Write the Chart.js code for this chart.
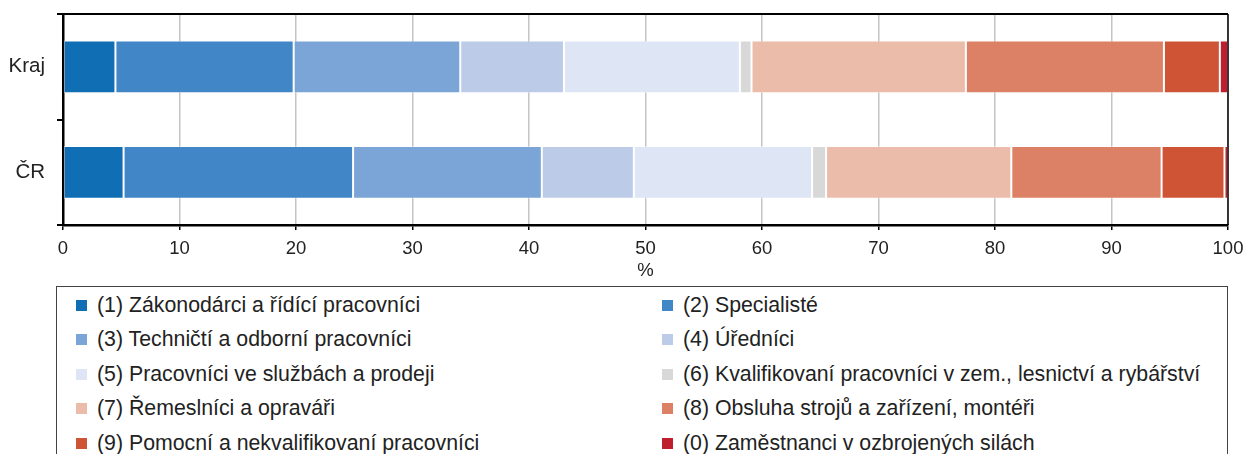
<!DOCTYPE html>
<html>
<head>
<meta charset="utf-8">
<script src="https://cdn.jsdelivr.net/npm/chart.js@4/dist/chart.umd.min.js"></script>
<style>
  body { margin: 0; background: #fff; font-family: "Liberation Sans", Arial, sans-serif; }
  #wrap { position: relative; width: 1248px; height: 454px; overflow: hidden; }
  #chartBox { position: absolute; left: 0; top: 0; width: 1248px; height: 285px; }
  #legend {
    position: absolute; left: 56px; top: 286px; width: 1172px; height: 200px;
    border: 1.5px solid #444; box-sizing: border-box;
    display: grid; grid-template-columns: 586px 580px; grid-auto-rows: 34.5px;
    padding-top: 1px; color: #222; font-size: 21.3px;
  }
  .item { display: flex; align-items: center; height: 34.5px; padding-left: 19px; white-space: nowrap; }
  .item span.box { display: inline-block; width: 11px; height: 11px; margin-right: 10px; flex: none; }
</style>
</head>
<body>
<div id="wrap">
  <div id="chartBox"><canvas id="myChart" width="1248" height="285"></canvas></div>
  <div id="legend"></div>
</div>
<script>
let categories = ["Kraj", "ČR"];
let groupLabels = [
  "(1) Zákonodárci a řídící pracovníci",
  "(2) Specialisté",
  "(3) Techničtí a odborní pracovníci",
  "(4) Úředníci",
  "(5) Pracovníci ve službách a prodeji",
  "(6) Kvalifikovaní pracovníci v zem., lesnictví a rybářství",
  "(7) Řemeslníci a opraváři",
  "(8) Obsluha strojů a zařízení, montéři",
  "(9) Pomocní a nekvalifikovaní pracovníci",
  "(0) Zaměstnanci v ozbrojených silách"
];
let krajValues = [4.5, 15.3, 14.3, 8.9, 15.1, 1.0, 18.4, 17.0, 4.8, 0.7];
let crValues = [5.2, 19.7, 16.2, 7.9, 15.3, 1.2, 15.9, 12.9, 5.4, 0.3];
let groupColors = [
  "#106eb4", "#4186c6", "#7aa5d6", "#bccbe8", "#dee5f4",
  "#d8d8d8", "#ebbcaa", "#dc8166", "#cf5436", "#bf1e2e"
];
let xTicks = [0, 10, 20, 30, 40, 50, 60, 70, 80, 90, 100];

var ctx = document.getElementById("myChart");

let datasets = [];
for (i = 0; i < groupLabels.length; i++) {
  datasets.push({
    label: groupLabels[i],
    data: [krajValues[i], crValues[i]],
    backgroundColor: groupColors[i],
    borderColor: "rgba(255,255,255,0.45)",
    borderWidth: 1,
    borderSkipped: false,
    categoryPercentage: 0.5,
    barPercentage: 1.0,
  });
}

// frame round the plot area (top + right side)
const frame = {
  id: "frame",
  afterDraw(chart) {
    let a = chart.chartArea;
    let c = chart.ctx;
    c.save();
    c.strokeStyle = "#000";
    c.lineWidth = 2;
    c.beginPath();
    c.moveTo(a.left, a.top);
    c.lineTo(a.right, a.top);
    c.stroke();
    c.lineWidth = 1.5;
    c.beginPath();
    c.moveTo(a.right, a.top);
    c.lineTo(a.right, a.bottom);
    c.stroke();
    c.restore();
  },
};

var myChart = new Chart(ctx, {
  type: "bar",
  data: { labels: categories, datasets: datasets },
  plugins: [frame],
  options: {
    indexAxis: "y",
    responsive: false,
    animation: false,
    layout: { padding: { top: 14, right: 20, left: 0, bottom: 0 } },
    plugins: { legend: { display: false }, tooltip: { enabled: false } },
    scales: {
      x: {
        stacked: true,
        min: 0,
        max: 100,
        afterBuildTicks: (scale) => {
          scale.ticks = xTicks.map((v) => ({ value: v }));
        },
        afterFit: (scale) => {
          scale.height = 60;
          scale.paddingLeft = 0;
          scale.paddingRight = 0;
        },
        grid: { color: "#c4c4c4", lineWidth: 1.5, tickColor: "#000", tickLength: 5, drawTicks: true },
        border: { color: "#000", width: 2.5 },
        ticks: { color: "#222", font: { family: "Liberation Sans", size: 18.5 }, padding: 8, maxRotation: 0 },
        title: { display: true, text: "%", color: "#222", font: { family: "Liberation Sans", size: 18.5 }, padding: { top: 0, bottom: 3 } },
      },
      y: {
        stacked: true,
        afterFit: (scale) => {
          scale.width = 63;
          scale.paddingTop = 0;
          scale.paddingBottom = 0;
        },
        grid: { offset: true, drawOnChartArea: false, tickColor: "#000", tickLength: 6, lineWidth: 2 },
        border: { color: "#000", width: 2.5 },
        ticks: { color: "#222", font: { family: "Liberation Sans", size: 20.5 }, padding: 12 },
      },
    },
  },
});

// legend in two columns, row by row
let legend = document.getElementById("legend");
for (i = 0; i < groupLabels.length; i++) {
  let item = document.createElement("div");
  item.className = "item";
  let box = document.createElement("span");
  box.className = "box";
  box.style.background = groupColors[i];
  item.appendChild(box);
  item.appendChild(document.createTextNode(groupLabels[i]));
  legend.appendChild(item);
}
</script>
</body>
</html>
